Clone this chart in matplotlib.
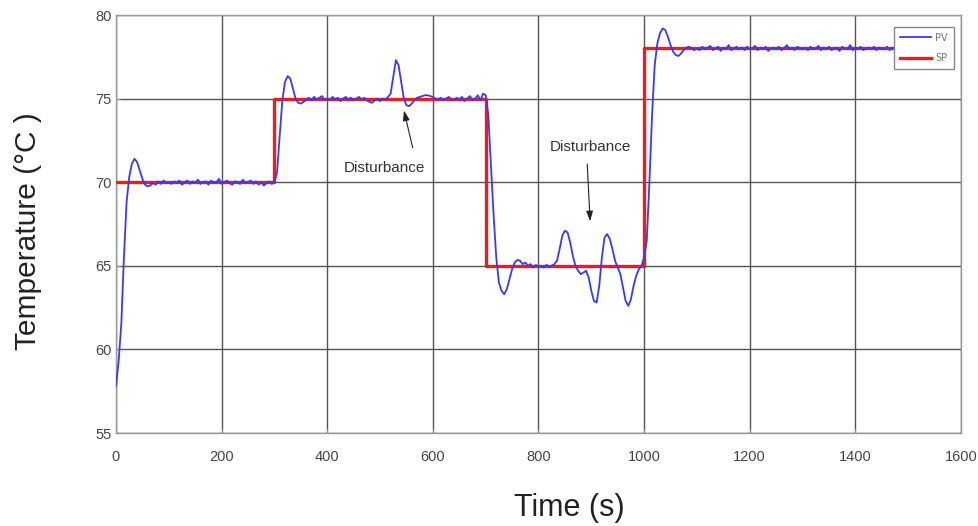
import numpy as np
import matplotlib
matplotlib.use("Agg")
import matplotlib.pyplot as plt

# ---------------- data ----------------
dt = 5  # sampling step of the PV record (s)

pv = [
    # 0-95 s
    57.8, 59.3, 61.5, 65.5, 68.8, 70.3, 71.1, 71.4, 71.2, 70.7,
    70.2, 69.85, 69.75, 69.8, 69.95, 69.85, 70.05, 69.9, 70.1, 69.95,
    # 100-195 s
    70.0, 69.9, 70.05, 69.95, 70.1, 69.85, 70.0, 70.1, 69.9, 70.05,
    69.95, 70.15, 69.9, 70.0, 70.05, 69.85, 70.1, 69.95, 70.0, 70.2,
    # 200-295 s
    69.9, 70.0, 70.1, 69.95, 69.85, 70.05, 70.0, 69.9, 70.15, 69.95,
    70.0, 70.1, 69.9, 70.05, 69.85, 70.0, 69.8, 69.95, 70.05, 69.9,
    # 300-395 s
    70.0, 70.6, 72.8, 74.9, 76.0, 76.35, 76.2, 75.6, 75.0, 74.75,
    74.7, 74.8, 74.95, 75.05, 74.9, 75.1, 74.95, 75.05, 75.15, 74.9,
    # 400-495 s
    75.0, 74.9, 75.1, 74.95, 75.05, 74.85, 75.0, 75.1, 74.95, 75.05,
    74.9, 75.0, 75.1, 74.95, 75.05, 74.9, 74.8, 74.75, 74.9, 75.0,
    # 500-595 s
    74.85, 75.0, 74.95, 75.1, 75.3, 76.3, 77.3, 77.0, 76.0, 75.0,
    74.6, 74.55, 74.7, 74.9, 75.05, 75.1, 75.15, 75.2, 75.2, 75.15,
    # 600-695 s
    75.1, 75.0, 74.95, 75.05, 74.9, 75.0, 75.1, 74.95, 74.9, 75.05,
    74.95, 75.1, 74.85, 75.0, 75.15, 74.9, 75.0, 75.2, 74.9, 75.3,
    # 700-795 s
    75.2, 74.0, 71.0, 68.0, 65.5, 64.0, 63.5, 63.3, 63.6, 64.2,
    64.8, 65.2, 65.35, 65.3, 65.1, 65.2, 65.0, 65.1, 64.9, 65.05,
    # 800-895 s
    64.95, 65.0, 64.9, 65.05, 64.95, 65.0, 65.1, 65.3, 66.0, 66.8,
    67.1, 67.0, 66.4, 65.6, 65.0, 64.7, 64.5, 64.6, 64.7, 64.3,
    # 900-995 s
    63.5, 62.9, 62.8, 63.8, 65.5, 66.7, 66.9, 66.6, 66.0, 65.3,
    64.9, 64.5, 63.7, 62.9, 62.6, 63.0, 63.8, 64.4, 64.8, 65.0,
    # 1000-1095 s
    65.5, 66.5, 70.0, 74.0, 77.0, 78.3, 78.9, 79.2, 79.1, 78.7,
    78.2, 77.8, 77.6, 77.55, 77.7, 77.9, 78.05, 78.1, 78.0, 77.9,
    # 1100-1195 s
    78.0, 77.9, 78.1, 77.95, 78.05, 78.15, 77.9, 78.0, 78.1, 77.85,
    78.05, 77.95, 78.2, 77.9, 78.0, 78.1, 77.95, 78.05, 77.9, 78.1,
    # 1200-1295 s
    77.95, 78.0, 78.15, 77.9, 78.05, 77.95, 78.1, 77.85, 78.0, 78.05,
    77.95, 78.1, 77.9, 78.0, 78.2, 77.95, 78.05, 77.9, 78.1, 78.0,
    # 1300-1395 s
    77.95, 78.05, 77.9, 78.1, 77.95, 78.0, 78.15, 77.9, 78.05, 77.95,
    78.1, 77.9, 78.0, 78.05, 77.85, 78.1, 78.0, 77.95, 78.2, 77.9,
    # 1400-1500 s
    78.05, 77.95, 78.1, 77.9, 78.0, 78.05, 77.95, 78.1, 77.9, 78.05,
    78.0, 77.95, 78.1, 77.9, 78.05, 77.95, 78.0, 78.1, 77.9, 78.0,
    78.05,
]
time_pv = np.arange(len(pv)) * dt

sp_time = [0, 300, 700, 1000, 1500]
sp_value = [70, 75, 65, 78, 78]

x_ticks = [0, 200, 400, 600, 800, 1000, 1200, 1400, 1600]
y_ticks = [55, 60, 65, 70, 75, 80]

ann_text = ["Disturbance", "Disturbance"]
ann_text_xy = [(508, 70.85), (898, 72.1)]
ann_tail_xy = [(563, 71.9), (892, 71.25)]
ann_head_xy = [(544, 74.45), (898, 67.5)]

# ---------------- figure ----------------
fig = plt.figure(figsize=(9.79, 5.26), dpi=100)
ax = fig.add_axes([116 / 979, 1 - 433 / 526, (961 - 116) / 979, (433 - 15) / 526])

ax.plot(sp_time, sp_value, drawstyle="steps-post", color="#ee1c1c", lw=2.4,
        label="SP", zorder=3)
ax.plot(time_pv, pv, color="#3a3af0", lw=1.3, label="PV", zorder=4)

ax.set_xlim(0, 1600)
ax.set_ylim(55, 80)
ax.set_xticks(x_ticks)
ax.set_yticks(y_ticks)
ax.grid(True, color="#555555", lw=1.0)
ax.set_axisbelow(True)
for s in ax.spines.values():
    s.set_color("#999999")
    s.set_linewidth(1.0)
ax.tick_params(direction="in", length=3, color="#999999",
               labelcolor="#444444", labelsize=10.5)
ax.tick_params(axis="x", pad=12)
ax.tick_params(axis="y", pad=3)
for lab in ax.get_xticklabels() + ax.get_yticklabels():
    lab.set_family("Liberation Sans")

ax.set_xlabel("Time (s)", family="Liberation Sans", fontsize=22,
              color="#222222", va="center")
ax.xaxis.set_label_coords(0.537, -0.179)
ax.set_ylabel("Temperature (°C )", family="Liberation Sans", fontsize=21.5,
              color="#222222", va="center")
ax.yaxis.set_label_coords(-0.104, 0.483)

for txt, txy, tail, head in zip(ann_text, ann_text_xy, ann_tail_xy, ann_head_xy):
    ax.text(txy[0], txy[1], txt, ha="center", va="center",
            family="Liberation Sans", fontsize=11, color="#333333", zorder=6)
    ax.annotate("", xy=head, xytext=tail,
                arrowprops=dict(arrowstyle="-|>,head_length=0.6,head_width=0.2",
                                color="#222222", lw=0.8), zorder=6)

handles, labels = ax.get_legend_handles_labels()
leg = ax.legend(handles[::-1], labels[::-1], loc="upper right",
                bbox_to_anchor=(0.997, 0.983), fontsize=7, frameon=True,
                fancybox=False, edgecolor="#888888", framealpha=1,
                handlelength=3.2, labelspacing=1.1, borderpad=0.6,
                handletextpad=0.4)
for t in leg.get_texts():
    t.set_color("#777777")

fig.savefig("out.png", dpi=100)
